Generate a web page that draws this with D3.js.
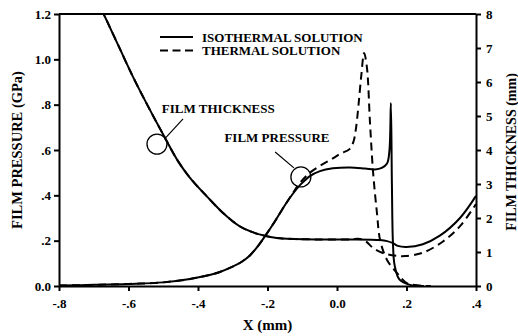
<!DOCTYPE html>
<html>
<head>
<meta charset="utf-8">
<script src="https://cdn.jsdelivr.net/npm/d3@7"></script>
<style>
  html, body { margin: 0; padding: 0; background: #fff; }
  svg { display: block; }
  text { font-family: "Liberation Serif", "Times New Roman", serif; font-weight: bold; fill: #000; }
</style>
</head>
<body>
<svg id="chart" width="518" height="336"></svg>
<script>
// Film thickness (mm) along X (mm)
const thicknessIso = [
  [-0.679, 8.15], [-0.673, 8.03], [-0.630, 7.09], [-0.587, 6.15], [-0.544, 5.29],
  [-0.501, 4.47], [-0.458, 3.68], [-0.423, 3.18], [-0.374, 2.63], [-0.328, 2.15],
  [-0.279, 1.75], [-0.245, 1.59], [-0.213, 1.49], [-0.173, 1.41], [-0.121, 1.38],
  [-0.05, 1.37], [0.04, 1.37], [0.124, 1.35], [0.144, 1.32], [0.161, 1.26],
  [0.175, 1.18], [0.2, 1.15], [0.247, 1.23], [0.296, 1.48], [0.354, 2.0], [0.4, 2.65]
];
const thicknessThermal = [
  [-0.679, 8.15], [-0.673, 8.03], [-0.630, 7.09], [-0.587, 6.15], [-0.544, 5.29],
  [-0.501, 4.47], [-0.458, 3.68], [-0.423, 3.18], [-0.374, 2.63], [-0.328, 2.15],
  [-0.279, 1.75], [-0.245, 1.59], [-0.213, 1.49], [-0.173, 1.41], [-0.121, 1.38],
  [-0.05, 1.37], [0.04, 1.37], [0.06, 1.39], [0.075, 1.36], [0.086, 1.29],
  [0.104, 1.12], [0.132, 0.97], [0.17, 0.89], [0.196, 0.88], [0.247, 0.98],
  [0.305, 1.31], [0.354, 1.76], [0.4, 2.41]
];

// Film pressure (GPa) along X (mm)
const pressureIso = [
  [-0.8, 0.002], [-0.7, 0.005], [-0.6, 0.009], [-0.5, 0.016], [-0.423, 0.031],
  [-0.38, 0.044], [-0.337, 0.062], [-0.302, 0.084], [-0.273, 0.108], [-0.25, 0.136],
  [-0.227, 0.177], [-0.207, 0.22], [-0.178, 0.287], [-0.15, 0.356], [-0.127, 0.407],
  [-0.106, 0.446], [-0.078, 0.485], [-0.049, 0.507], [-0.012, 0.519], [0.037, 0.523],
  [0.081, 0.518], [0.109, 0.514], [0.129, 0.521], [0.144, 0.54], [0.151, 0.6],
  [0.155, 0.807], [0.158, 0.45], [0.161, 0.19], [0.166, 0.09], [0.18, 0.028],
  [0.21, 0.005], [0.25, 0]
];
const pressureThermal = [
  [-0.8, 0.002], [-0.7, 0.005], [-0.6, 0.009], [-0.5, 0.016], [-0.423, 0.031],
  [-0.38, 0.044], [-0.337, 0.062], [-0.302, 0.084], [-0.273, 0.108], [-0.25, 0.136],
  [-0.227, 0.177], [-0.207, 0.22], [-0.178, 0.287], [-0.15, 0.356], [-0.127, 0.41],
  [-0.106, 0.456], [-0.078, 0.5], [-0.049, 0.53], [-0.012, 0.563], [0.009, 0.583],
  [0.037, 0.605], [0.048, 0.64], [0.055, 0.7], [0.062, 0.8], [0.07, 0.93],
  [0.078, 1.028], [0.086, 0.966], [0.095, 0.719], [0.104, 0.499], [0.115, 0.322],
  [0.124, 0.203], [0.144, 0.115], [0.173, 0.057], [0.201, 0.013], [0.24, 0.002], [0.27, 0]
];

const xTicks = [-0.8, -0.6, -0.4, -0.2, 0.0, 0.2, 0.4];
const xTickLabels = ["-.8", "-.6", "-.4", "-.2", "0.0", ".2", ".4"];
const pTicks = [0, 0.2, 0.4, 0.6, 0.8, 1.0, 1.2];
const pTickLabels = ["0.0", ".2", ".4", ".6", ".8", "1.0", "1.2"];
const hTicks = [0, 1, 2, 3, 4, 5, 6, 7, 8];
const hTickLabels = ["0", "1", "2", "3", "4", "5", "6", "7", "8"];

const seriesNames = ["ISOTHERMAL SOLUTION", "THERMAL SOLUTION"];
const annotations = [
  { text: "FILM THICKNESS", at: [-0.504, 0.763], ring: [-0.518, 0.626], lead: [[-0.443, 0.737], [-0.494, 0.652]] },
  { text: "FILM PRESSURE", at: [-0.324, 0.637], ring: [-0.104, 0.481], lead: [[-0.178, 0.591], [-0.124, 0.521]] }
];

const W = 518, H = 336;
const m = { left: 59, right: 42, top: 14, bottom: 50 };
const svg = d3.select("#chart");

const x = d3.scaleLinear().domain([-0.8, 0.4]).range([m.left, W - m.right]);
const yP = d3.scaleLinear().domain([0, 1.2]).range([H - m.bottom, m.top]);
const yH = d3.scaleLinear().domain([0, 8]).range([H - m.bottom, m.top]);

svg.append("defs").append("clipPath").attr("id", "plot")
  .append("rect").attr("x", m.left).attr("y", m.top)
  .attr("width", W - m.left - m.right).attr("height", H - m.top - m.bottom);

const g = svg.append("g").attr("clip-path", "url(#plot)");
const smooth = d3.curveCatmullRom.alpha(0.5);
const lineH = d3.line().x(d => x(d[0])).y(d => yH(d[1])).curve(smooth);
const lineP = d3.line().x(d => x(d[0])).y(d => yP(d[1])).curve(smooth);

const dash = "8,5";
g.append("path").attr("d", lineH(thicknessIso)).attr("fill", "none").attr("stroke", "#000").attr("stroke-width", 2);
g.append("path").attr("d", lineH(thicknessThermal)).attr("fill", "none").attr("stroke", "#000").attr("stroke-width", 2).attr("stroke-dasharray", dash);
g.append("path").attr("d", lineP(pressureIso)).attr("fill", "none").attr("stroke", "#000").attr("stroke-width", 2);
g.append("path").attr("d", lineP(pressureThermal)).attr("fill", "none").attr("stroke", "#000").attr("stroke-width", 2).attr("stroke-dasharray", dash);

// Frame and axes
svg.append("line").attr("x1", m.left).attr("x2", W - m.right).attr("y1", m.top).attr("y2", m.top)
  .attr("stroke", "#000").attr("stroke-width", 2);

function styleAxis(sel) {
  sel.select(".domain").attr("stroke", "#000").attr("stroke-width", 2);
  sel.selectAll(".tick line").attr("stroke", "#000").attr("stroke-width", 2);
  sel.selectAll(".tick text").style("font-family", "'Liberation Serif', 'Times New Roman', serif")
    .style("font-weight", "bold").style("font-size", "13px").attr("fill", "#000");
}

svg.append("g").attr("transform", `translate(0,${H - m.bottom})`)
  .call(d3.axisBottom(x).tickValues(xTicks).tickSize(5).tickPadding(8).tickSizeOuter(0)
    .tickFormat((d, i) => xTickLabels[i]))
  .call(styleAxis);

svg.append("g").attr("transform", `translate(${m.left},0)`)
  .call(d3.axisLeft(yP).tickValues(pTicks).tickSize(5).tickPadding(3).tickSizeOuter(0)
    .tickFormat((d, i) => pTickLabels[i]))
  .call(styleAxis);

svg.append("g").attr("transform", `translate(${W - m.right},0)`)
  .call(d3.axisRight(yH).tickValues(hTicks).tickSize(5).tickPadding(5).tickSizeOuter(0)
    .tickFormat((d, i) => hTickLabels[i]))
  .call(styleAxis);

// Axis titles
svg.append("text").attr("x", (m.left + W - m.right) / 2).attr("y", 330)
  .attr("text-anchor", "middle").style("font-size", "15px").text("X (mm)");
svg.append("text").attr("transform", `translate(22,${(m.top + H - m.bottom) / 2}) rotate(-90)`)
  .attr("text-anchor", "middle").style("font-size", "14.5px").text("FILM PRESSURE (GPa)");
svg.append("text").attr("transform", `translate(516,${(m.top + H - m.bottom) / 2 + 2}) rotate(-90)`)
  .attr("text-anchor", "middle").style("font-size", "14px").text("FILM THICKNESS (mm)");

// Legend
const legend = svg.append("g");
seriesNames.forEach((name, i) => {
  const ly = 37 + i * 13.5;
  legend.append("line").attr("x1", 160).attr("x2", 193).attr("y1", ly).attr("y2", ly)
    .attr("stroke", "#000").attr("stroke-width", 2)
    .attr("stroke-dasharray", i === 1 ? "8,4.5" : null);
  legend.append("text").attr("x", 202).attr("y", ly + 4.5).style("font-size", "13px").text(name);
});

// Curve annotations
annotations.forEach(a => {
  svg.append("text").attr("x", x(a.at[0])).attr("y", yP(a.at[1])).style("font-size", "13px").text(a.text);
  svg.append("circle").attr("cx", x(a.ring[0])).attr("cy", yP(a.ring[1])).attr("r", 10)
    .attr("fill", "none").attr("stroke", "#000").attr("stroke-width", 1.3);
  svg.append("line").attr("x1", x(a.lead[0][0])).attr("y1", yP(a.lead[0][1]))
    .attr("x2", x(a.lead[1][0])).attr("y2", yP(a.lead[1][1]))
    .attr("stroke", "#000").attr("stroke-width", 1.2);
});
</script>
</body>
</html>
